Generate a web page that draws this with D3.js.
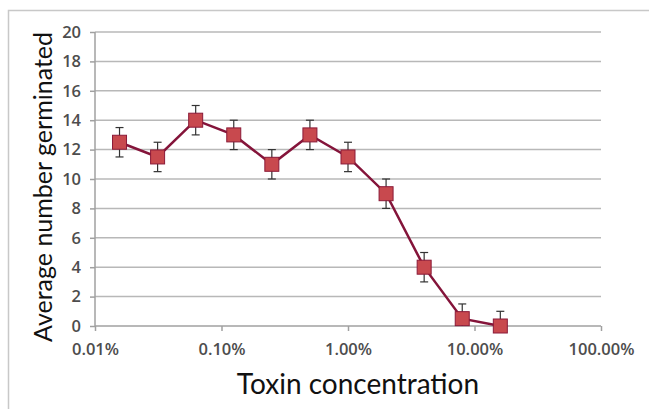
<!DOCTYPE html>
<meta charset="utf-8">
<style>

body {
  margin: 0;
  background: #fff;
}

.grid line {
  stroke: #b8b8b8;
  stroke-width: 1.5;
}

.axis path, .axis line {
  stroke: #a0a0a0;
  stroke-width: 1.5;
}

.line {
  stroke: #84143a;
  stroke-width: 2.5;
  fill: none;
}

.dot {
  fill: #c8494e;
  stroke: #8b1a38;
  stroke-width: 1;
}

.err {
  stroke: #333;
  stroke-width: 1.2;
}

.title {
  font: 28px Lato, sans-serif;
  fill: #111;
}

</style>
<body>
<script src="https://d3js.org/d3.v7.min.js"></script>
<script>

// concentrations in percent (doubling series)
var concentrations = [0.015625, 0.03125, 0.0625, 0.125, 0.25, 0.5, 1, 2, 4, 8, 16];
var germinated = [12.5, 11.5, 14, 13, 11, 13, 11.5, 9, 4, 0.5, 0];
var errors = [1, 1, 1, 1, 1, 1, 1, 1, 1, 1, 1];
var xTicks = [0.01, 0.1, 1, 10, 100];
var xTickLabels = ["0.01%", "0.10%", "1.00%", "10.00%", "100.00%"];
var yTicks = [0, 2, 4, 6, 8, 10, 12, 14, 16, 18, 20];

var data = concentrations.map(function(c, i) {
  return {conc: c, value: germinated[i], err: errors[i]};
});

var margin = {top: 32, right: 48, bottom: 83, left: 95},
    width = 649 - margin.left - margin.right,
    height = 409 - margin.top - margin.bottom;

var root = d3.select("body").append("svg")
    .attr("width", 649)
    .attr("height", 409);

// outer frame (top and left edges visible)
root.append("path")
    .attr("d", "M8.5,409 V10.5 H649")
    .attr("fill", "none")
    .attr("stroke", "#c8c8c8")
    .attr("stroke-width", 1.5);

var svg = root.append("g")
    .attr("transform", "translate(" + margin.left + "," + margin.top + ")");

var x = d3.scaleLog()
    .domain([0.01, 100])
    .range([0, width]);

var y = d3.scaleLinear()
    .domain([0, 20])
    .range([height, 0]);

function styleTicks(g) {
  g.selectAll("text")
    .style("font-family", "'Open Sans', sans-serif")
    .style("font-size", "16.5px")
    .style("font-weight", "600")
    .style("fill", "#4d4d4d");
}

svg.append("g")
    .attr("class", "grid")
  .selectAll("line")
    .data(yTicks.slice(1))
  .enter().append("line")
    .attr("x1", 0)
    .attr("x2", width)
    .attr("y1", function(d) { return y(d); })
    .attr("y2", function(d) { return y(d); });

svg.append("g")
    .attr("class", "y axis")
    .call(d3.axisLeft(y).tickValues(yTicks).tickSize(5).tickPadding(9))
    .call(function(g) { g.select(".domain").attr("d", "M0," + height + "V0"); })
    .call(styleTicks);

svg.append("g")
    .attr("class", "x axis")
    .attr("transform", "translate(0," + height + ")")
    .call(d3.axisBottom(x).tickValues(xTicks).tickSize(5).tickPadding(12)
      .tickFormat(function(d, i) { return xTickLabels[i]; }))
    .call(function(g) { g.select(".domain").attr("d", "M0,0H" + width); })
    .call(styleTicks);

// error bars, clipped at zero
var errG = svg.append("g");
data.forEach(function(d) {
  var lo = Math.max(0, d.value - d.err), hi = d.value + d.err, cx = x(d.conc);
  errG.append("line").attr("class", "err")
      .attr("x1", cx).attr("x2", cx).attr("y1", y(lo)).attr("y2", y(hi));
  errG.append("line").attr("class", "err")
      .attr("x1", cx - 4).attr("x2", cx + 4).attr("y1", y(hi)).attr("y2", y(hi));
  if (d.value - d.err > 0) {
    errG.append("line").attr("class", "err")
        .attr("x1", cx - 4).attr("x2", cx + 4).attr("y1", y(lo)).attr("y2", y(lo));
  }
});

svg.append("path")
    .datum(data)
    .attr("class", "line")
    .attr("d", d3.line()
      .x(function(d) { return x(d.conc); })
      .y(function(d) { return y(d.value); }));

svg.selectAll(".dot")
    .data(data)
  .enter().append("rect")
    .attr("class", "dot")
    .attr("x", function(d) { return x(d.conc) - 7; })
    .attr("y", function(d) { return y(d.value) - 7; })
    .attr("width", 14)
    .attr("height", 14);

root.append("text")
    .attr("class", "title")
    .attr("x", 358)
    .attr("y", 394)
    .attr("text-anchor", "middle")
    .text("Toxin concentration");

root.append("text")
    .attr("class", "title")
    .attr("transform", "translate(52,187) rotate(-90)")
    .attr("text-anchor", "middle")
    .style("font-size", "25px")
    .text("Average number germinated");

</script>
